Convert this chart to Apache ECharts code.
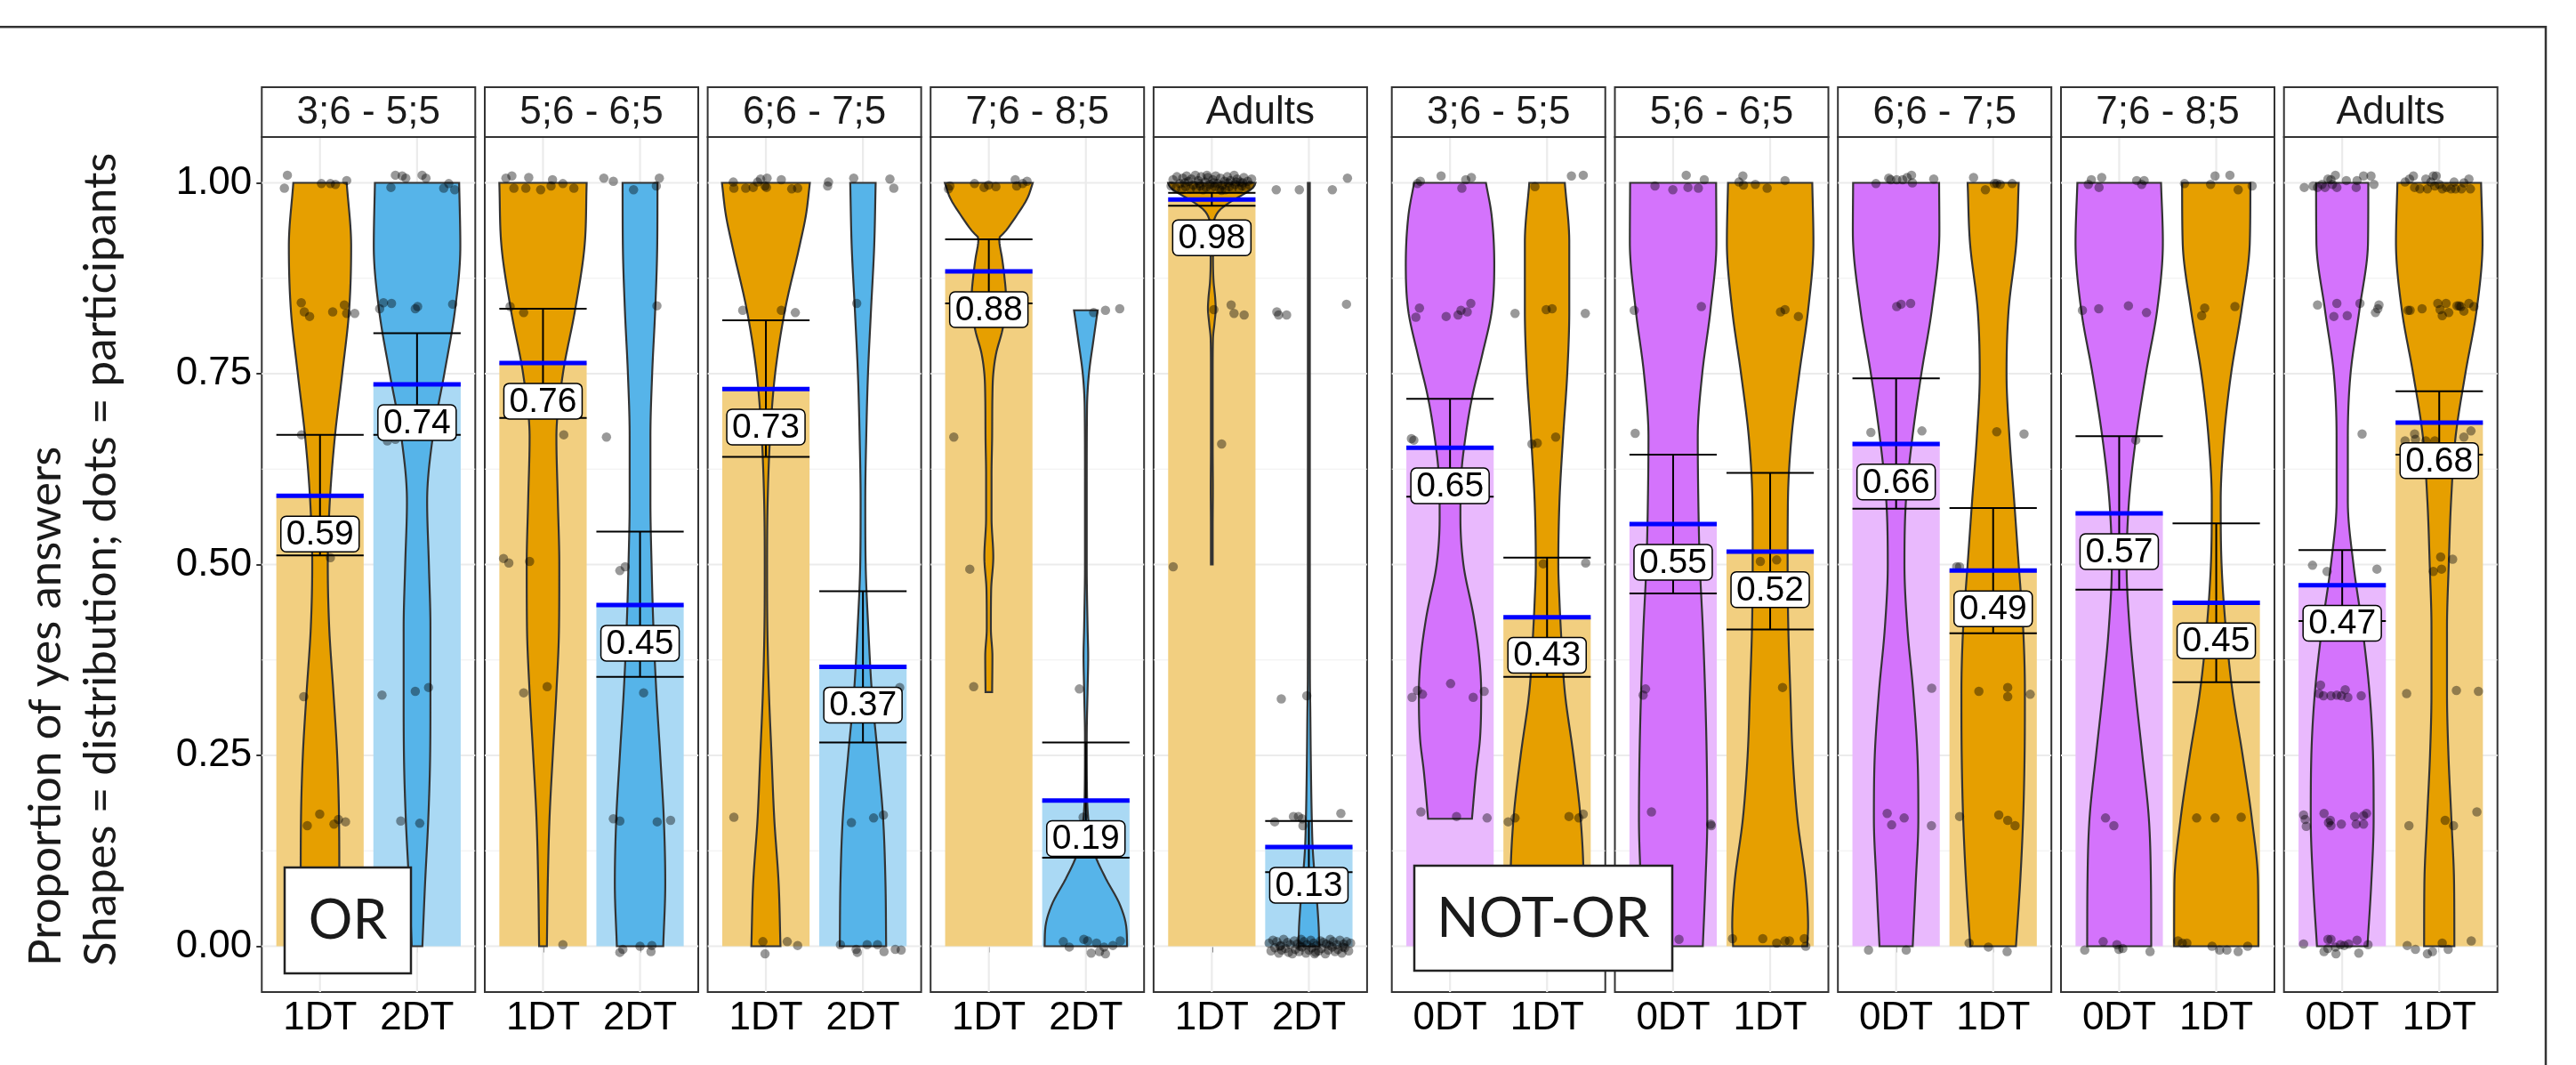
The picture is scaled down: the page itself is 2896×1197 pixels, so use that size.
<!DOCTYPE html>
<html><head><meta charset="utf-8">
<script src="https://cdn.jsdelivr.net/npm/echarts@6/dist/echarts.min.js"></script>
<style>html,body{margin:0;padding:0;background:#fff;}#c{width:2896px;height:1197px;}</style>
</head><body><div id="c"></div>
<script>
// ---------------- DATA ----------------
const panelTitles = ['3;6 - 5;5','5;6 - 6;5','6;6 - 7;5','7;6 - 8;5','Adults','3;6 - 5;5','5;6 - 6;5','6;6 - 7;5','7;6 - 8;5','Adults'];
const conditions = [['1DT','2DT'],['1DT','2DT'],['1DT','2DT'],['1DT','2DT'],['1DT','2DT'],['0DT','1DT'],['0DT','1DT'],['0DT','1DT'],['0DT','1DT'],['0DT','1DT']];
const groupBoxes = ['OR','NOT-OR'];
const yTickValues = [0, 0.25, 0.5, 0.75, 1];
const yMinorValues = [0.125, 0.375, 0.625, 0.875];
const means = [[0.590,0.736],[0.764,0.447],[0.730,0.366],[0.884,0.191],[0.978,0.130],[0.653,0.431],[0.553,0.517],[0.658,0.492],[0.567,0.450],[0.473,0.686]];
const meanLabels = [['0.59','0.74'],['0.76','0.45'],['0.73','0.37'],['0.88','0.19'],['0.98','0.13'],['0.65','0.43'],['0.55','0.52'],['0.66','0.49'],['0.57','0.45'],['0.47','0.68']];
const errLow  = [[0.512,0.670],[0.692,0.353],[0.641,0.267],[0.842,0.116],[0.970,0.097],[0.589,0.353],[0.462,0.415],[0.573,0.410],[0.467,0.346],[0.426,0.644]];
const errHigh = [[0.670,0.803],[0.835,0.543],[0.820,0.465],[0.926,0.267],[0.987,0.164],[0.717,0.509],[0.644,0.620],[0.744,0.574],[0.668,0.554],[0.519,0.727]];

// violin half-width profiles [y, half-width in category units]
const violinP1 = [
 [[1,0.275],[0.917,0.321],[0.833,0.300],[0.75,0.229],[0.667,0.153],[0.583,0.101],[0.5,0.080],[0.417,0.095],[0.333,0.138],[0.25,0.177],[0.167,0.196],[0.083,0.199],[0,0.199]],
 [[1,0.434],[0.917,0.446],[0.833,0.391],[0.75,0.281],[0.667,0.162],[0.583,0.104],[0.5,0.122],[0.417,0.138],[0.333,0.138],[0.25,0.135],[0.167,0.116],[0.083,0.083],[0,0.055]]];
const violinP2 = [
 [[1,0.450],[0.917,0.428],[0.833,0.330],[0.75,0.205],[0.667,0.138],[0.583,0.153],[0.5,0.168],[0.417,0.165],[0.333,0.138],[0.25,0.101],[0.167,0.067],[0.083,0.049],[0,0.040]],
 [[1,0.180],[0.917,0.177],[0.833,0.156],[0.75,0.125],[0.667,0.107],[0.583,0.107],[0.5,0.119],[0.417,0.138],[0.333,0.168],[0.25,0.208],[0.167,0.245],[0.083,0.260],[0,0.239]]];
const violinP3 = [
 [[1,0.453],[0.958,0.413],[0.917,0.346],[0.833,0.196],[0.75,0.095],[0.667,0.043],[0.583,0.018],[0.5,0.012],[0.417,0.015],[0.333,0.031],[0.25,0.058],[0.167,0.086],[0.083,0.131],[0,0.150]],
 [[1,0.131],[0.917,0.116],[0.833,0.083],[0.75,0.052],[0.667,0.034],[0.583,0.024],[0.5,0.028],[0.417,0.055],[0.333,0.092],[0.25,0.153],[0.167,0.208],[0.083,0.232],[0,0.239]]];
const violinP4 = [
 [[1,0.453],[0.980,0.398],[0.958,0.291],[0.936,0.168],[0.927,0.107],[0.900,0.138],[0.879,0.159],[0.850,0.177],[0.828,0.168],[0.806,0.138],[0.777,0.076],[0.750,0.046],[0.720,0.037],[0.667,0.034],[0.618,0.028],[0.561,0.028],[0.510,0.046],[0.467,0.024],[0.416,0.021],[0.380,0.037],[0.333,0.034]],
 [[0.833,0.122],[0.792,0.076],[0.749,0.031],[0.705,0.012],[0.6,0.009],[0.5,0.009],[0.416,0.018],[0.380,0.024],[0.337,0.018],[0.272,0.009],[0.199,0.012],[0.163,0.028],[0.127,0.073],[0.091,0.196],[0.055,0.349],[0.026,0.416],[0,0.425]]];
const violinP5 = [
 [[1,0.450],[0.994,0.428],[0.987,0.352],[0.976,0.205],[0.965,0.086],[0.954,0.031],[0.936,0.012],[0.9,0.012],[0.871,0.018],[0.850,0.034],[0.835,0.040],[0.817,0.028],[0.796,0.012],[0.75,0.009],[0.65,0.009],[0.6,0.011],[0.55,0.009],[0.5,0.009]],
 [[1,0.010],[0.5,0.010],[0.35,0.011],[0.308,0.015],[0.236,0.021],[0.163,0.031],[0.127,0.040],[0.091,0.061],[0.055,0.086],[0.026,0.101],[0,0.107]]];
const violinP6 = [
 [[1,0.370],[0.958,0.428],[0.893,0.456],[0.833,0.431],[0.777,0.336],[0.720,0.229],[0.667,0.159],[0.618,0.116],[0.561,0.107],[0.500,0.138],[0.431,0.245],[0.380,0.300],[0.333,0.321],[0.272,0.309],[0.228,0.269],[0.167,0.226]],
 [[1,0.183],[0.922,0.229],[0.833,0.229],[0.75,0.208],[0.667,0.165],[0.583,0.128],[0.5,0.116],[0.452,0.128],[0.417,0.141],[0.333,0.183],[0.25,0.272],[0.167,0.346],[0.083,0.376],[0,0.376]]];
const violinP7 = [
 [[1,0.443],[0.922,0.446],[0.833,0.385],[0.75,0.300],[0.667,0.254],[0.583,0.260],[0.5,0.275],[0.417,0.306],[0.333,0.330],[0.25,0.346],[0.167,0.352],[0.083,0.333],[0,0.306]],
 [[1,0.434],[0.922,0.446],[0.833,0.391],[0.75,0.300],[0.667,0.220],[0.583,0.183],[0.5,0.180],[0.417,0.187],[0.333,0.208],[0.25,0.232],[0.167,0.281],[0.083,0.367],[0.026,0.391],[0,0.382]]];
const violinP8 = [
 [[1,0.443],[0.936,0.446],[0.833,0.367],[0.75,0.260],[0.667,0.168],[0.583,0.101],[0.5,0.086],[0.417,0.116],[0.333,0.177],[0.25,0.220],[0.167,0.229],[0.083,0.202],[0,0.171]],
 [[1,0.263],[0.922,0.239],[0.833,0.159],[0.75,0.138],[0.667,0.168],[0.583,0.217],[0.5,0.263],[0.417,0.309],[0.333,0.327],[0.25,0.324],[0.167,0.309],[0.083,0.278],[0,0.235]]];
const violinP9 = [
 [[1,0.431],[0.922,0.450],[0.833,0.391],[0.75,0.275],[0.667,0.174],[0.583,0.101],[0.5,0.076],[0.417,0.107],[0.333,0.168],[0.25,0.239],[0.167,0.306],[0.083,0.327],[0,0.330]],
 [[1,0.352],[0.922,0.346],[0.833,0.260],[0.75,0.153],[0.667,0.080],[0.583,0.046],[0.5,0.055],[0.417,0.098],[0.333,0.168],[0.25,0.272],[0.167,0.367],[0.083,0.431],[0,0.434]]];
const violinP10 = [
 [[1,0.269],[0.922,0.266],[0.833,0.177],[0.75,0.086],[0.667,0.058],[0.583,0.058],[0.5,0.116],[0.417,0.208],[0.333,0.281],[0.25,0.318],[0.167,0.324],[0.083,0.300],[0,0.260]],
 [[1,0.431],[0.922,0.446],[0.833,0.385],[0.75,0.269],[0.667,0.168],[0.583,0.122],[0.5,0.098],[0.417,0.080],[0.333,0.080],[0.25,0.095],[0.167,0.125],[0.083,0.153],[0,0.156]]];

// participants: [x-jitter in category units, proportion]
const dotsP1 = [
 [[-0.336,1.010],[-0.367,0.993],[0.015,0.999],[0.107,0.999],[0.159,0.998],[0.275,1.003],[-0.193,0.843],[-0.162,0.831],[-0.107,0.825],[0.131,0.831],[0.251,0.840],[0.275,0.829],[0.358,0.829],[-0.190,0.670],[0.107,0.509],[-0.168,0.327],[-0.131,0.158],[-0.003,0.173],[0.144,0.160],[0.190,0.166],[0.263,0.163],[-0.200,0.004],[0.050,-0.006],[0.300,0.002]],
 [[-0.223,1.010],[-0.153,1.009],[-0.116,1.006],[0.052,1.010],[0.092,1.006],[-0.269,0.994],[0.275,0.993],[0.327,0.999],[0.388,0.991],[-0.385,0.835],[-0.346,0.843],[-0.263,0.842],[-0.018,0.835],[0.006,0.838],[0.367,0.841],[-0.306,0.662],[-0.223,0.664],[-0.361,0.329],[-0.018,0.334],[0.119,0.339],[-0.168,0.164],[0.028,0.161],[-0.350,-0.004]]];
const dotsP2 = [
 [[-0.382,1.006],[-0.321,1.009],[-0.147,1.007],[0.098,1.004],[0.205,0.999],[-0.300,0.993],[-0.177,0.993],[-0.024,0.991],[0.083,0.996],[0.318,0.993],[-0.339,0.838],[-0.199,0.830],[0.214,0.670],[-0.407,0.508],[-0.352,0.502],[-0.138,0.504],[-0.199,0.332],[0.043,0.340],[0.205,0.002]],
 [[-0.373,1.006],[-0.275,1.002],[0.199,1.006],[-0.067,0.991],[0.168,0.996],[0.174,0.839],[-0.346,0.667],[-0.208,0.492],[-0.153,0.497],[0.037,0.332],[-0.275,0.167],[-0.208,0.164],[0.177,0.163],[0.315,0.165],[-0.208,-0.008],[-0.177,-0.004],[0.000,0.000],[0.113,-0.007],[0.122,0.001]]];
const dotsP3 = [
 [[-0.336,1.001],[-0.086,1.001],[-0.055,1.005],[0.012,1.006],[0.159,1.004],[-0.330,0.993],[-0.208,0.993],[-0.131,0.994],[-0.009,0.996],[0.006,0.994],[0.266,0.992],[0.327,0.993],[-0.239,0.833],[0.159,0.833],[0.303,0.830],[-0.330,0.169],[-0.031,0.006],[0.220,0.006],[0.327,0.001],[-0.009,-0.010]],
 [[-0.355,1.001],[-0.364,0.996],[-0.095,1.006],[0.278,1.005],[0.318,0.993],[-0.064,0.842],[0.379,0.339],[-0.119,0.162],[0.110,0.168],[0.211,0.172],[-0.232,0.002],[-0.070,-0.004],[-0.058,-0.008],[0.043,0.002],[0.150,0.002],[0.217,-0.007],[0.333,-0.004],[0.394,-0.005]]];
const dotsP4 = [
 [[-0.401,0.996],[-0.147,0.999],[-0.049,0.994],[-0.003,0.997],[0.073,0.995],[0.272,1.004],[0.287,0.996],[0.349,0.999],[0.394,1.002],[-0.416,0.992],[-0.361,0.667],[-0.196,0.494],[-0.156,0.340]],
 [[0.080,0.830],[0.202,0.833],[0.349,0.835],[-0.067,0.337],[-0.028,0.169],[-0.232,0.006],[-0.171,-0.001],[-0.021,0.009],[0.018,0.007],[0.055,-0.009],[0.110,0.004],[0.141,-0.007],[0.187,-0.001],[0.202,-0.010],[0.278,0.001],[0.355,0.007]]];
const dotsP5 = [
 [[-0.42,0.996],[-0.40,1.004],[-0.37,0.993],[-0.36,1.008],[-0.33,0.999],[-0.31,0.991],[-0.30,1.006],[-0.27,0.995],[-0.26,1.009],[-0.24,1.002],[-0.22,0.992],[-0.21,1.005],[-0.19,0.997],[-0.17,1.010],[-0.16,0.993],[-0.14,1.003],[-0.12,0.996],[-0.11,1.008],[-0.09,0.991],[-0.07,1.001],[-0.06,0.994],[-0.04,1.007],[-0.02,0.998],[-0.01,0.992],[0.01,1.004],[0.03,0.995],[0.04,1.009],[0.06,0.999],[0.08,0.992],[0.09,1.006],[0.11,0.997],[0.13,1.002],[0.14,0.991],[0.16,1.008],[0.18,0.995],[0.19,1.003],[0.21,0.993],[0.23,1.010],[0.24,0.998],[0.26,1.005],[0.28,0.992],[0.29,1.001],[0.31,0.996],[0.33,1.007],[0.35,0.994],[0.37,1.002],[0.39,0.997],[0.41,1.005],[-0.28,1.000],[-0.13,0.999],[0.02,1.000],[0.17,1.000],[0.32,1.000],[-0.05,1.010],[0.10,0.990],[0.25,1.001],
  [0.021,0.834],[0.199,0.840],[0.229,0.829],[0.333,0.827],[0.101,0.658],[-0.398,0.497]],
 [[-0.336,0.991],[-0.098,0.991],[0.242,0.991],[0.398,1.006],[-0.330,0.831],[-0.312,0.827],[-0.229,0.827],[0.388,0.841],[-0.284,0.324],[-0.021,0.328],[-0.352,0.163],[-0.159,0.170],[-0.107,0.170],[-0.070,0.167],[-0.061,0.158],[0.330,0.174],
  [-0.41,0.004],[-0.39,-0.006],[-0.37,0.008],[-0.35,-0.002],[-0.33,0.006],[-0.31,-0.009],[-0.29,0.001],[-0.28,-0.005],[-0.26,0.009],[-0.24,-0.003],[-0.22,0.005],[-0.21,-0.008],[-0.19,0.002],[-0.17,-0.010],[-0.15,0.007],[-0.14,-0.004],[-0.12,0.003],[-0.10,-0.007],[-0.08,0.009],[-0.07,-0.001],[-0.05,0.006],[-0.03,-0.009],[-0.02,0.002],[0.00,-0.005],[0.02,0.008],[0.03,-0.002],[0.05,0.004],[0.07,-0.008],[0.08,0.001],[0.10,-0.006],[0.12,0.007],[0.13,-0.003],[0.15,0.005],[0.17,-0.010],[0.18,0.003],[0.20,-0.005],[0.22,0.009],[0.24,-0.001],[0.25,0.006],[0.27,-0.007],[0.29,0.002],[0.30,-0.004],[0.32,0.008],[0.34,-0.009],[0.36,0.003],[0.37,-0.002],[0.39,0.006],[0.41,-0.006],[0.43,0.004],[-0.30,0.000],[-0.09,0.000],[0.06,-0.010],[0.21,0.001],[0.35,-0.001]]];
const dotsP6 = [
 [[-0.306,1.002],[-0.092,1.009],[0.162,1.004],[0.220,1.007],[0.122,0.993],[-0.336,0.999],[-0.315,0.836],[-0.352,0.824],[-0.040,0.825],[0.083,0.827],[0.113,0.833],[0.177,0.831],[0.214,0.842],[-0.398,0.665],[-0.373,0.663],[-0.391,0.326],[-0.336,0.335],[-0.284,0.330],[0.006,0.344],[0.239,0.326],[0.352,0.334],[-0.300,0.176],[0.067,0.170],[0.382,0.168]],
 [[-0.125,0.995],[0.251,1.009],[0.373,1.010],[-0.330,0.829],[-0.009,0.834],[0.052,0.835],[0.394,0.829],[-0.156,0.658],[-0.101,0.659],[0.089,0.667],[-0.040,0.501],[0.398,0.502],[-0.401,0.163],[-0.330,0.168],[0.226,0.170],[0.327,0.168],[0.373,0.173],[-0.300,0.004],[-0.150,-0.005],[0.000,0.007],[0.120,-0.002],[0.250,0.003],[0.380,-0.006]]];
const dotsP7 = [
 [[0.135,1.010],[0.321,1.004],[-0.187,0.996],[-0.003,0.991],[0.153,0.994],[0.260,0.993],[-0.401,0.833],[0.291,0.838],[-0.391,0.672],[-0.309,0.329],[-0.284,0.337],[-0.223,0.176],[0.388,0.160],[0.394,0.158],[0.061,0.009],[-0.250,-0.004]],
 [[-0.321,1.001],[-0.281,1.009],[-0.275,0.997],[-0.031,0.993],[0.153,1.003],[-0.153,0.998],[0.107,0.831],[0.153,0.834],[0.291,0.825],[-0.101,0.504],[0.067,0.506],[0.128,0.339],[-0.388,0.010],[-0.076,0.010],[0.067,0.004],[0.153,0.007],[0.199,0.007],[0.352,0.010],[0.367,0.000]]];
const dotsP8 = [
 [[-0.208,0.999],[-0.076,1.006],[0.006,1.004],[0.067,1.004],[0.113,1.007],[0.159,1.010],[0.168,1.000],[0.388,1.005],[-0.055,1.004],[0.006,0.838],[0.052,0.841],[0.150,0.842],[-0.260,0.673],[0.266,0.675],[0.367,0.338],[-0.092,0.174],[-0.046,0.159],[0.083,0.168],[0.364,0.158],[-0.284,-0.005],[0.104,-0.005]],
 [[-0.202,1.007],[-0.080,0.991],[0.012,0.999],[0.037,0.999],[0.073,0.998],[0.196,0.999],[0.037,0.674],[0.318,0.671],[-0.376,0.497],[-0.346,0.497],[-0.147,0.334],[0.150,0.339],[0.150,0.327],[0.382,0.330],[-0.346,0.170],[0.058,0.172],[0.150,0.165],[0.226,0.158],[-0.248,0.004],[-0.049,-0.001],[0.144,-0.007]]];
const dotsP9 = [
 [[-0.287,1.004],[-0.180,1.007],[0.180,1.003],[0.257,1.003],[-0.318,0.998],[-0.208,0.994],[0.232,0.998],[-0.379,0.833],[-0.211,0.835],[0.095,0.839],[0.281,0.830],[0.171,0.663],[-0.141,0.168],[-0.055,0.158],[-0.355,-0.005],[-0.165,0.006],[-0.024,0.002],[-0.003,-0.004],[0.037,-0.003],[0.318,-0.007]],
 [[-0.327,0.999],[-0.058,0.998],[-0.012,1.009],[0.141,1.010],[0.226,0.991],[0.370,0.996],[-0.150,0.826],[-0.119,0.836],[0.193,0.838],[-0.202,0.168],[-0.012,0.168],[0.257,0.169],[-0.394,0.007],[-0.349,0.004],[-0.303,0.004],[-0.043,0.000],[0.034,-0.005],[0.110,-0.005],[0.226,-0.007],[0.324,0.000]]];
const dotsP10 = [
 [[-0.391,0.994],[-0.300,0.996],[-0.254,0.994],[-0.177,0.994],[-0.147,1.005],[-0.116,1.004],[-0.070,1.010],[-0.055,0.994],[0.043,1.003],[0.153,1.003],[0.144,0.994],[0.220,1.009],[0.297,1.009],[0.327,0.998],[-0.101,0.998],[-0.208,0.998],
  [-0.254,0.840],[-0.086,0.825],[-0.055,0.842],[0.052,0.826],[0.183,0.842],[0.343,0.830],[0.367,0.835],[0.379,0.840],
  [0.205,0.671],[-0.306,0.499],[-0.156,0.491],[0.358,0.494],
  [-0.223,0.342],[-0.239,0.331],[-0.193,0.328],[-0.116,0.328],[-0.055,0.329],[-0.009,0.328],[0.031,0.336],[0.058,0.326],[0.196,0.328],
  [-0.398,0.172],[-0.370,0.157],[-0.382,0.166],[-0.187,0.174],[-0.141,0.162],[-0.116,0.158],[-0.009,0.160],[0.128,0.170],[0.144,0.160],[0.220,0.171],[0.251,0.174],[0.220,0.160],[-0.122,0.165],
  [-0.398,0.003],[-0.187,-0.007],[-0.147,0.009],[-0.116,0.009],[-0.064,-0.010],[-0.018,0.002],[0.067,0.003],[0.153,0.008],[0.171,-0.009],[0.266,0.002],[-0.147,-0.003],[-0.070,-0.001],[0.021,0.001]],
 [[-0.352,1.001],[-0.306,1.005],[-0.266,1.009],[-0.254,0.994],[-0.138,1.005],[-0.122,0.992],[-0.086,1.001],[-0.061,1.009],[-0.031,1.009],[0.031,0.992],[0.076,0.994],[0.153,1.001],[0.168,0.992],[0.229,0.992],[0.306,1.005],[0.321,0.992],[-0.199,0.992],[-0.046,0.996],[0.122,0.992],[0.254,1.000],[0.000,0.998],
  [-0.321,0.833],[-0.300,0.833],[-0.177,0.835],[-0.015,0.842],[0.009,0.834],[0.031,0.826],[0.070,0.842],[0.098,0.830],[0.183,0.839],[0.223,0.838],[0.254,0.832],[0.306,0.842],[0.358,0.838],[0.205,0.839],
  [-0.352,0.662],[-0.254,0.671],[-0.245,0.664],[-0.138,0.662],[-0.046,0.662],[0.254,0.667],[0.327,0.675],
  [-0.061,0.491],[0.015,0.510],[0.024,0.494],[0.138,0.507],
  [-0.336,0.331],[0.177,0.335],[0.404,0.334],
  [-0.312,0.158],[0.061,0.165],[0.147,0.158],[0.388,0.176],
  [-0.330,0.001],[-0.245,-0.004],[-0.122,-0.010],[-0.070,-0.007],[0.031,0.004],[0.092,-0.004],[0.330,0.007]]];

const allViolins = [violinP1,violinP2,violinP3,violinP4,violinP5,violinP6,violinP7,violinP8,violinP9,violinP10];
const allDots = [dotsP1,dotsP2,dotsP3,dotsP4,dotsP5,dotsP6,dotsP7,dotsP8,dotsP9,dotsP10];

// ---------------- STYLE / LAYOUT ----------------
const condFill = {'0DT':'#D473FC','1DT':'#E69F00','2DT':'#56B4E9'};
const condBar  = {'0DT':'#E9B9FD','1DT':'#F2CF80','2DT':'#AAD9F4'};
const gridLefts = [294.3,545,795.6,1046.2,1296.9,1564.7,1815.5,2066.2,2317,2567.7];
const GRID_TOP = 154, GRID_H = 961, GRID_W = 240;
const STRIP_TOP = 98, STRIP_H = 56;
const BAR_HALF = 0.45, LABEL_NUDGE = 0.05;
const SANS = '"Liberation Sans", Arial, sans-serif';

function monotone(xs, ys) {
  const n = xs.length, d = [], m = new Array(n);
  for (let i = 0; i < n - 1; i++) d.push((ys[i+1]-ys[i])/(xs[i+1]-xs[i]));
  m[0] = d[0]; m[n-1] = d[n-2];
  for (let i = 1; i < n - 1; i++) m[i] = (d[i-1]*d[i] <= 0) ? 0 : (d[i-1]+d[i])/2;
  for (let i = 0; i < n - 1; i++) {
    if (d[i] === 0) { m[i] = 0; m[i+1] = 0; continue; }
    const a = m[i]/d[i], b = m[i+1]/d[i], s = a*a + b*b;
    if (s > 9) { const t = 3/Math.sqrt(s); m[i] = t*a*d[i]; m[i+1] = t*b*d[i]; }
  }
  return function (x) {
    let i = 0;
    while (i < n - 2 && x > xs[i+1]) i++;
    const h = xs[i+1]-xs[i], t = (x - xs[i])/h, t2 = t*t, t3 = t2*t;
    return (2*t3-3*t2+1)*ys[i] + (t3-2*t2+t)*h*m[i] + (-2*t3+3*t2)*ys[i+1] + (t3-t2)*h*m[i+1];
  };
}

function violinPoints(api, cx, prof) {
  const pts = prof.slice().sort((a, b) => a[0] - b[0]);
  const ys = pts.map(p => p[0]), hs = pts.map(p => p[1]);
  const f = monotone(ys, hs);
  const unit = api.size([1, 0])[0];
  const y0 = ys[0], y1 = ys[ys.length - 1], N = 160;
  const right = [], left = [];
  for (let k = 0; k <= N; k++) {
    const y = y1 - (y1 - y0) * k / N;
    const h = Math.max(0.004, f(y));
    const p = api.coord([cx, y]);
    right.push([p[0] + h * unit, p[1]]);
    left.push([p[0] - h * unit, p[1]]);
  }
  return right.concat(left.reverse());
}

const grids = [], xAxes = [], yAxes = [], series = [], graphics = [];
gridLefts.forEach((left, p) => {
  grids.push({left: left, top: GRID_TOP, width: GRID_W, height: GRID_H, show: true, borderColor: '#333', borderWidth: 2, backgroundColor: '#fff', containLabel: false, outerBoundsMode: 'none'});
  xAxes.push({gridIndex: p, type: 'value', min: 0.4, max: 2.6,
    axisLine: {show: false}, splitLine: {show: false},
    axisTick: {show: true, customValues: [1, 2], length: 7, lineStyle: {color: '#333', width: 2}},
    axisLabel: {show: true, customValues: [1, 2], formatter: v => conditions[p][Math.round(v) - 1], fontSize: 44, color: '#000', fontFamily: SANS, margin: 8}});
  yAxes.push({gridIndex: p, type: 'value', min: -0.06, max: 1.06,
    axisLine: {show: false}, splitLine: {show: false},
    axisTick: {show: p === 0, customValues: yTickValues, length: 6, lineStyle: {color: '#333', width: 2}},
    axisLabel: {show: p === 0, customValues: yTickValues, formatter: v => v.toFixed(2), fontSize: 44, color: '#000', fontFamily: SANS, margin: 11}});

  // grid lines
  series.push({type: 'custom', xAxisIndex: p, yAxisIndex: p, z: 1, silent: true, data: [[1, 0.5]],
    renderItem: (params, api) => {
      const ch = [];
      const a = api.coord([0.4, 0]), b = api.coord([2.6, 0]);
      yMinorValues.forEach(v => { const y = api.coord([1, v])[1]; ch.push({type: 'line', shape: {x1: a[0], y1: y, x2: b[0], y2: y}, style: {stroke: '#EFEFEF', lineWidth: 1.2}}); });
      yTickValues.forEach(v => { const y = api.coord([1, v])[1]; ch.push({type: 'line', shape: {x1: a[0], y1: y, x2: b[0], y2: y}, style: {stroke: '#EBEBEB', lineWidth: 2.2}}); });
      const t = api.coord([1, 1.06])[1], bt = api.coord([1, -0.06])[1];
      [1, 2].forEach(c => { const x = api.coord([c, 0])[0]; ch.push({type: 'line', shape: {x1: x, y1: t, x2: x, y2: bt}, style: {stroke: '#EBEBEB', lineWidth: 2.2}}); });
      return {type: 'group', children: ch};
    }});

  // bars + violins
  series.push({type: 'custom', xAxisIndex: p, yAxisIndex: p, z: 2, silent: true,
    data: [[1, means[p][0]], [2, means[p][1]]],
    renderItem: (params, api) => {
      const ci = params.dataIndex, cat = ci + 1, cond = conditions[p][ci];
      const tl = api.coord([cat - BAR_HALF, means[p][ci]]), br = api.coord([cat + BAR_HALF, 0]);
      return {type: 'group', children: [
        {type: 'rect', shape: {x: tl[0], y: tl[1], width: br[0] - tl[0], height: br[1] - tl[1]}, style: {fill: condBar[cond]}},
        {type: 'polygon', shape: {points: violinPoints(api, cat, allViolins[p][ci])}, style: {fill: condFill[cond], stroke: '#333', lineWidth: 2.2}}
      ]};
    }});

  // participants
  series.push({type: 'scatter', xAxisIndex: p, yAxisIndex: p, z: 3, silent: true, symbol: 'circle', symbolSize: 10.5,
    itemStyle: {color: 'rgba(0,0,0,0.5)'},
    data: allDots[p][0].map(d => [1 + d[0], d[1]]).concat(allDots[p][1].map(d => [2 + d[0], d[1]]))});

  // error bars, mean lines, labels
  series.push({type: 'custom', xAxisIndex: p, yAxisIndex: p, z: 4, silent: true,
    data: [[1, means[p][0]], [2, means[p][1]]],
    renderItem: (params, api) => {
      const ci = params.dataIndex, cat = ci + 1;
      const lo = api.coord([cat, errLow[p][ci]]), hi = api.coord([cat, errHigh[p][ci]]);
      const xl = api.coord([cat - BAR_HALF, 0])[0], xr = api.coord([cat + BAR_HALF, 0])[0];
      const my = api.coord([cat, means[p][ci]])[1];
      const lc = api.coord([cat, means[p][ci] - LABEL_NUDGE]);
      return {type: 'group', children: [
        {type: 'line', shape: {x1: lo[0], y1: lo[1], x2: hi[0], y2: hi[1]}, style: {stroke: '#000', lineWidth: 2}},
        {type: 'line', shape: {x1: xl, y1: lo[1], x2: xr, y2: lo[1]}, style: {stroke: '#000', lineWidth: 2}},
        {type: 'line', shape: {x1: xl, y1: hi[1], x2: xr, y2: hi[1]}, style: {stroke: '#000', lineWidth: 2}},
        {type: 'line', shape: {x1: xl, y1: my, x2: xr, y2: my}, style: {stroke: '#0000FF', lineWidth: 5}},
        {type: 'rect', shape: {x: lc[0] - 44, y: lc[1] - 20, width: 88, height: 40, r: 6}, style: {fill: '#fff', stroke: '#000', lineWidth: 1.5}},
        {type: 'text', style: {text: meanLabels[p][ci], x: lc[0], y: lc[1] + 1, align: 'center', verticalAlign: 'middle', font: '39px ' + SANS, fill: '#000'}}
      ]};
    }});

  // strip
  graphics.push({type: 'rect', z: 5, shape: {x: left, y: STRIP_TOP, width: GRID_W, height: STRIP_H}, style: {fill: '#fff', stroke: '#333', lineWidth: 2}});
  graphics.push({type: 'text', z: 6, x: left + GRID_W / 2, y: STRIP_TOP + STRIP_H / 2 + 1, style: {text: panelTitles[p], align: 'center', verticalAlign: 'middle', font: '44px ' + SANS, fill: '#1A1A1A'}});
});

// group boxes
graphics.push({type: 'rect', z: 20, shape: {x: 320, y: 975, width: 142, height: 119}, style: {fill: '#fff', stroke: '#222', lineWidth: 2.5}});
graphics.push({type: 'text', z: 21, x: 391, y: 1035, style: {text: groupBoxes[0], align: 'center', verticalAlign: 'middle', font: '62px Lato', fill: '#1A1A1A'}});
graphics.push({type: 'rect', z: 20, shape: {x: 1590, y: 973, width: 290, height: 118}, style: {fill: '#fff', stroke: '#222', lineWidth: 2.5}});
graphics.push({type: 'text', z: 21, x: 1735, y: 1033, style: {text: groupBoxes[1], align: 'center', verticalAlign: 'middle', font: '62px Lato', fill: '#1A1A1A'}});

// y-axis title (two lines)
graphics.push({type: 'text', z: 6, x: 52, y: 1086, rotation: Math.PI / 2, style: {text: 'Proportion of yes answers', align: 'left', verticalAlign: 'middle', font: '51px Lato', fill: '#1A1A1A'}});
graphics.push({type: 'text', z: 6, x: 114, y: 1086, rotation: Math.PI / 2, style: {text: 'Shapes = distribution; dots = participants', align: 'left', verticalAlign: 'middle', font: '51px Lato', fill: '#1A1A1A'}});

// outer frame
graphics.push({type: 'rect', z: 30, shape: {x: -10, y: 30.3, width: 2872, height: 1400}, style: {fill: 'none', stroke: '#333', lineWidth: 2.5}});

const chart = echarts.init(document.getElementById('c'), null, {renderer: 'canvas', width: 2896, height: 1197});
chart.setOption({
  animation: false,
  backgroundColor: '#fff',
  grid: grids, xAxis: xAxes, yAxis: yAxes, series: series,
  graphic: {elements: graphics}
});
</script></body></html>
